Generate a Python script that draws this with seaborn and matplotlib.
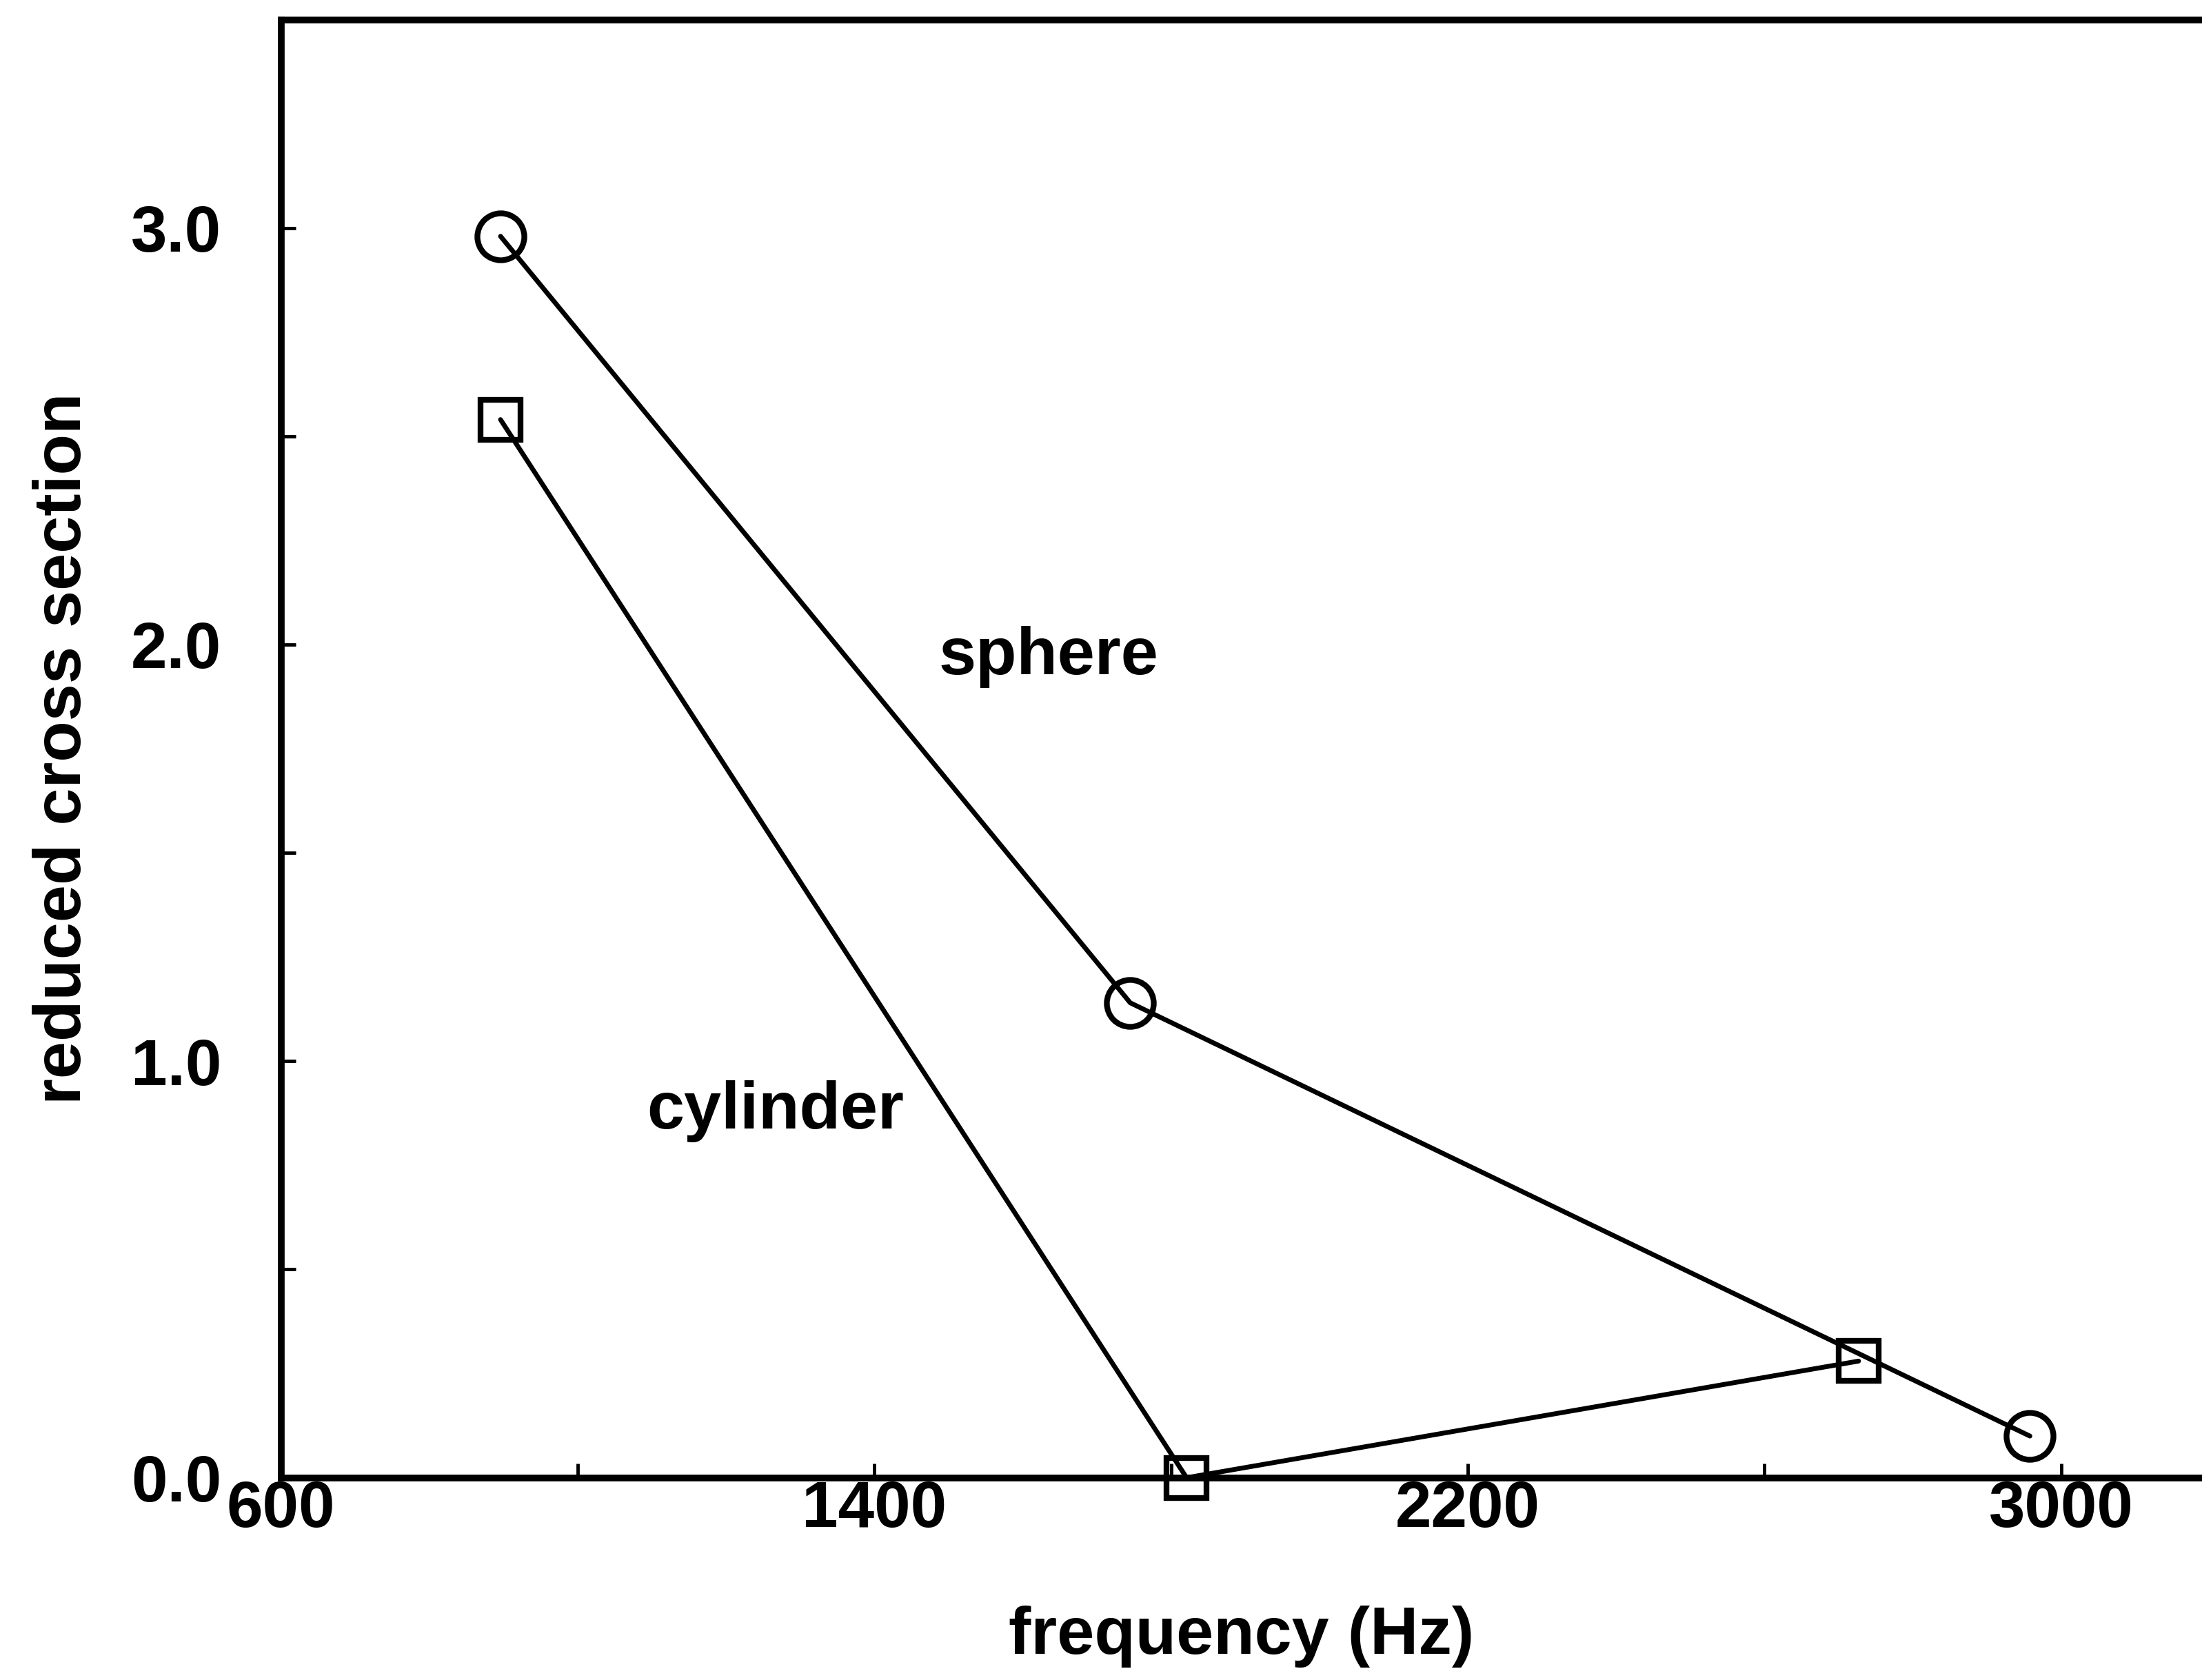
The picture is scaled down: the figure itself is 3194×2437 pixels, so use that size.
import pandas as pd
import seaborn as sns
import matplotlib.pyplot as plt

# values
sphere_freq = [896, 1745, 2958]
sphere_sigma = [2.98, 1.14, 0.10]
cylinder_freq = [896, 1821, 2727]
cylinder_sigma = [2.54, 0.00, 0.28]

x_ticks = [600, 1400, 2200, 3000]
x_minor = [1000, 1800, 2600]
y_ticks = [0.0, 1.0, 2.0, 3.0]
y_minor = [0.5, 1.5, 2.5]

sphere = pd.DataFrame({'freq': sphere_freq, 'sigma': sphere_sigma})
cylinder = pd.DataFrame({'freq': cylinder_freq, 'sigma': cylinder_sigma})

sns.set_style("ticks")
plt.rcParams['font.family'] = ['Liberation Sans', 'DejaVu Sans']
plt.rcParams['font.weight'] = 'bold'
for key in ['text.color', 'axes.labelcolor', 'xtick.color', 'ytick.color']:
    plt.rcParams[key] = 'black'

fig = plt.figure(figsize=(31.94, 24.37), dpi=100)
ax = fig.add_axes([0.1276, 0.1204, 0.8724, 0.8679])

line_kw = dict(color='black', linewidth=5, markersize=49, mfc='none',
               mec='black', mew=6, clip_on=False)
sns.lineplot(x='freq', y='sigma', data=sphere, marker='o', ax=ax, **line_kw)
sns.lineplot(x='freq', y='sigma', data=cylinder, marker='s', ax=ax,
             **{**line_kw, 'markersize': 42})

ax.set_xlim(600, 3190)
ax.set_ylim(0, 3.5)
ax.set_xticks(x_ticks)
ax.set_xticks(x_minor, minor=True)
ax.set_yticks(y_ticks)
ax.set_yticks(y_minor, minor=True)
ax.set_xticklabels([str(t) for t in x_ticks], fontweight='bold')
ax.set_yticklabels([f"{t:.1f}" for t in y_ticks], fontweight='bold')

ax.tick_params(which='both', direction='in', length=15, width=3.5,
               labelsize=68)
ax.tick_params(axis='x', pad=2)
ax.tick_params(axis='y', pad=62)

for side in ['left', 'bottom', 'top']:
    ax.spines[side].set_linewidth(7)
    ax.spines[side].set_color('black')
ax.spines['right'].set_visible(False)

ax.set_xlabel("frequency (Hz)", fontsize=70, fontweight='bold')
ax.set_ylabel("reduced cross section", fontsize=70, fontweight='bold')
ax.xaxis.label.set_va('center')
ax.yaxis.label.set_va('center')
ax.xaxis.set_label_coords(0.5, -0.109)
ax.yaxis.set_label_coords(-0.1133, 0.5)

ax.text(1635, 1.97, "sphere", fontsize=70, fontweight='bold',
        ha='center', va='center')
ax.text(1267, 0.88, "cylinder", fontsize=70, fontweight='bold',
        ha='center', va='center')

fig.savefig("out.png", dpi=100, facecolor='white')
